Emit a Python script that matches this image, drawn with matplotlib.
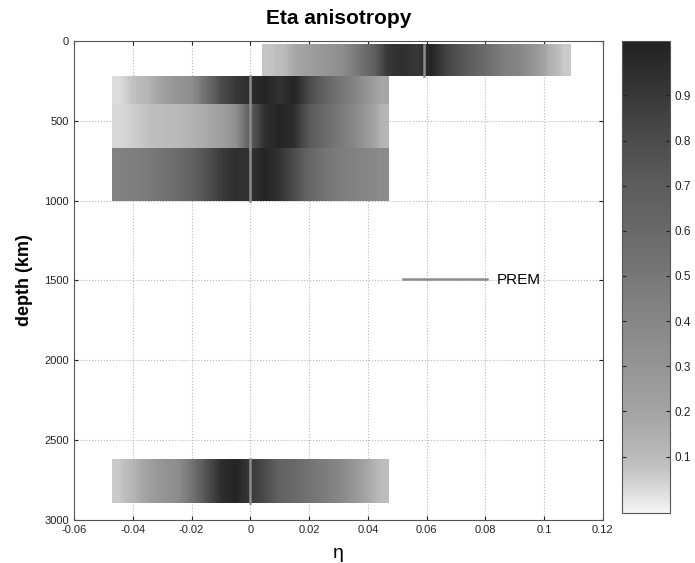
import numpy as np
import matplotlib
matplotlib.use("Agg")
import matplotlib.pyplot as plt
from matplotlib.colors import LinearSegmentedColormap

plt.rcParams["font.family"] = ["Liberation Sans", "DejaVu Sans"]

# Layer depth limits (km)
layer_top = [24, 220, 400, 670, 2620]
layer_bot = [220, 400, 670, 1000, 2891]

# eta range sampled in each layer
eta_lo = [0.004, -0.047, -0.047, -0.047, -0.047]
eta_hi = [0.109, 0.047, 0.047, 0.047, 0.047]

# PREM reference eta per layer
prem_eta = [0.059, 0.0, 0.0, 0.0, 0.0]

# normalised posterior per eta bin, one list per layer
p_24_220 = [0.07, 0.10, 0.20, 0.25, 0.30, 0.35, 0.50, 0.65, 0.90, 0.95, 0.90,
            1.00, 0.85, 0.75, 0.65, 0.55, 0.45, 0.40, 0.30, 0.15, 0.06]
p_220_400 = [0.02, 0.08, 0.12, 0.22, 0.30, 0.35, 0.57, 0.80, 0.90, 0.95,
             1.00, 0.93, 1.00, 0.82, 0.66, 0.53, 0.43, 0.30, 0.18]
p_400_670 = [0.03, 0.05, 0.08, 0.09, 0.10, 0.13, 0.17, 0.22, 0.33, 0.70,
             0.95, 1.00, 0.95, 0.73, 0.60, 0.50, 0.40, 0.27, 0.12]
p_670_1000 = [0.43, 0.45, 0.48, 0.53, 0.58, 0.66, 0.77, 0.88, 0.95, 0.93,
              1.00, 0.93, 0.80, 0.63, 0.53, 0.47, 0.43, 0.40, 0.37]
p_2620_2891 = [0.06, 0.12, 0.22, 0.30, 0.35, 0.53, 0.77, 0.95, 1.00, 0.90,
               0.80, 0.66, 0.60, 0.53, 0.47, 0.40, 0.30, 0.18, 0.09]
layer_prob = [p_24_220, p_220_400, p_400_670, p_670_1000, p_2620_2891]

# light-to-dark grey map
grey_pts = [(0.0, 0.96), (0.05, 0.85), (0.10, 0.75), (0.20, 0.65), (0.30, 0.59),
            (0.40, 0.53), (0.50, 0.47), (0.60, 0.41), (0.70, 0.36),
            (0.80, 0.29), (0.90, 0.21), (1.0, 0.13)]
cmap = LinearSegmentedColormap(
    "greys_soft",
    {c: [(x, g, g) for x, g in grey_pts] for c in ("red", "green", "blue")},
)

fig = plt.figure(figsize=(6.95, 5.63), dpi=100)
ax = fig.add_axes([0.1065, 0.0764, 0.761, 0.851])
cax = fig.add_axes([0.895, 0.0888, 0.069, 0.838])

vmin, vmax = -0.025, 1.02
img = None
for top, bot, lo, hi, prob in zip(layer_top, layer_bot, eta_lo, eta_hi, layer_prob):
    img = ax.imshow(np.array(prob)[None, :], extent=(lo, hi, bot, top),
                    cmap=cmap, vmin=vmin, vmax=vmax, aspect="auto",
                    interpolation="bilinear", zorder=2)

prem_line = None
for top, bot, eta in zip(layer_top, layer_bot, prem_eta):
    prem_line, = ax.plot([eta, eta], [top, bot], color="#8c8c8c", lw=1.8,
                         zorder=3)

ax.legend([prem_line], ["PREM"], frameon=False, fontsize=11,
          handlelength=5.5, loc="center left",
          bbox_to_anchor=(0.611, 0.5), borderaxespad=0, handletextpad=0.65)

ax.set_xlim(-0.06, 0.12)
ax.set_ylim(3000, 0)
ax.set_xticks(np.arange(-0.06, 0.121, 0.02))
ax.set_xticklabels(["-0.06", "-0.04", "-0.02", "0", "0.02", "0.04", "0.06",
                    "0.08", "0.1", "0.12"])
ax.set_yticks(np.arange(0, 3001, 500))
ax.tick_params(direction="in", length=3, labelsize=8, colors="#222222",
               top=True, right=True)
ax.grid(True, linestyle=":", color="#b5b5b5", lw=0.8, zorder=1)
ax.set_axisbelow(True)
for s in ax.spines.values():
    s.set_color("#555555")
    s.set_linewidth(0.8)

ax.set_title("Eta anisotropy", fontsize=15, fontweight="bold", pad=12)
ax.set_xlabel("η", fontsize=14, labelpad=7)
ax.set_ylabel("depth (km)", fontsize=13, fontweight="bold", labelpad=8)

cb = fig.colorbar(img, cax=cax)
cb.set_ticks(np.arange(0.1, 0.91, 0.1))
cb.set_ticklabels([f"{v:.1f}" for v in np.arange(0.1, 0.91, 0.1)])
cax.tick_params(direction="in", length=3, labelsize=8.5, left=True, right=True,
                colors="#222222")
cb.outline.set_edgecolor("#555555")
cb.outline.set_linewidth(0.8)

fig.savefig("out.png", dpi=100, facecolor="white")
